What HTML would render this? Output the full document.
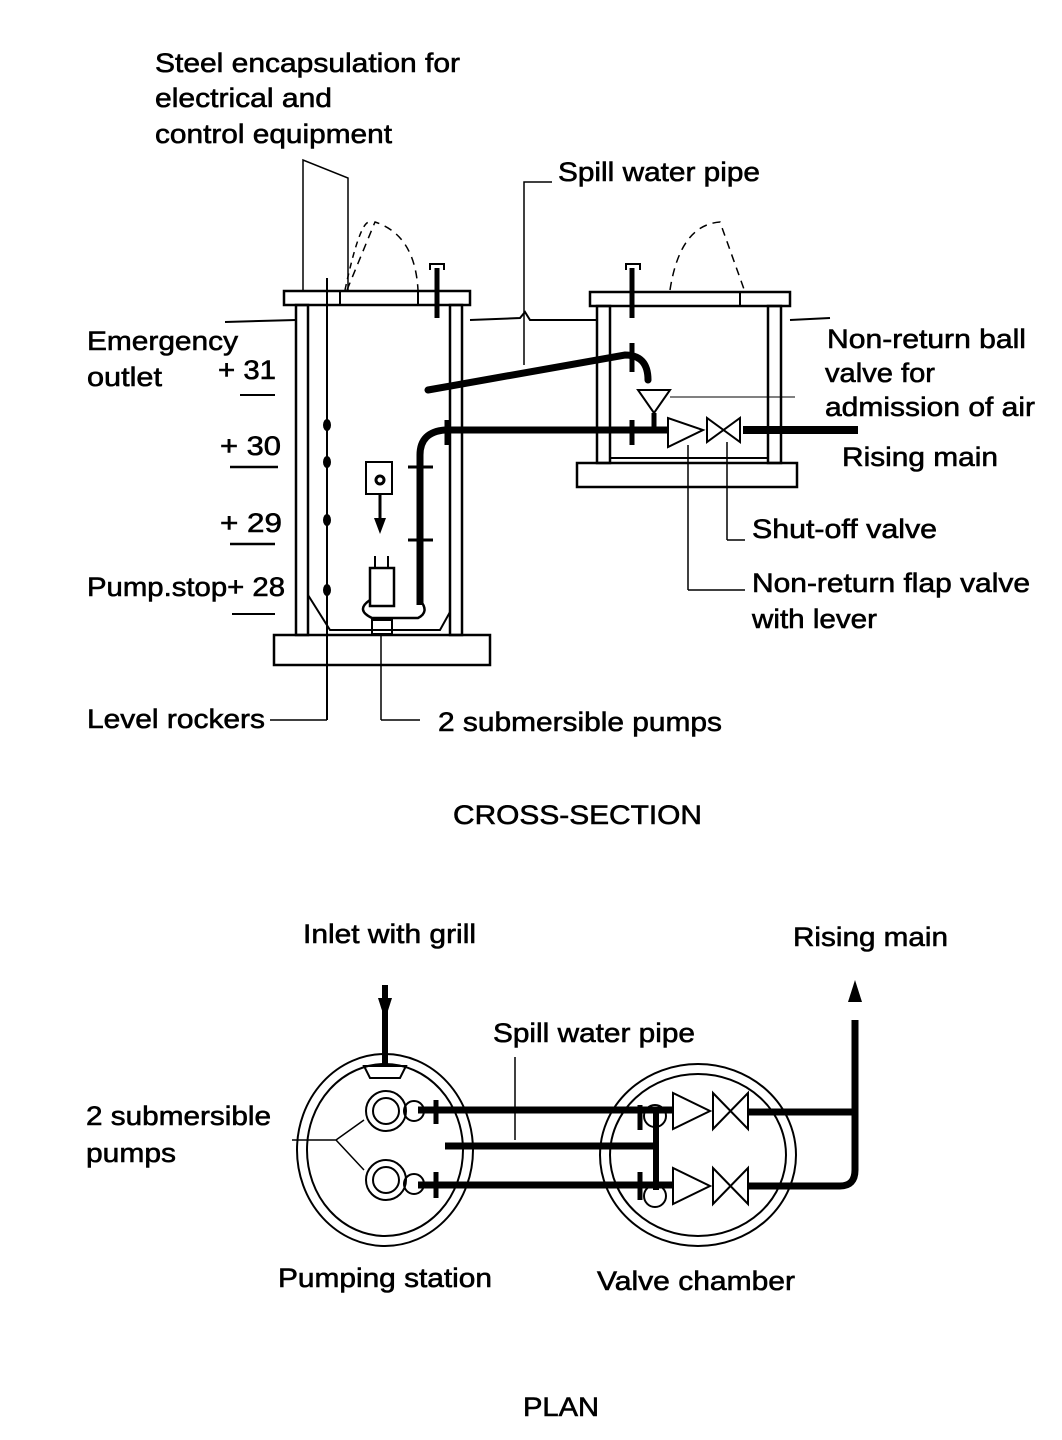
<!DOCTYPE html>
<html><head><meta charset="utf-8"><style>
html,body{margin:0;padding:0;background:#fff;}
svg{display:block;}
text{font-family:"Liberation Sans",Arial,sans-serif;font-size:27px;fill:#000;stroke:#000;stroke-width:0.6;}
</style></head><body>
<svg width="1062" height="1440" viewBox="0 0 1062 1440" xmlns="http://www.w3.org/2000/svg">
<g fill="none" stroke="#000">
<path d="M225 322 L296 320" stroke-width="2"/>
<path d="M470 320 L520 318 L525 312 L530 320 L597 320" stroke-width="2"/>
<path d="M790 320 L830 318" stroke-width="2"/>
<rect x="284" y="291" width="186" height="14" stroke-width="2.5"/>
<line x1="340" y1="291" x2="340" y2="305" stroke-width="2"/>
<line x1="418" y1="291" x2="418" y2="305" stroke-width="2"/>
<rect x="296" y="305" width="12" height="330" stroke-width="2.5"/>
<rect x="450" y="305" width="12" height="330" stroke-width="2.5"/>
<path d="M308 595 L330 630 L440 630 L450 612" stroke-width="2"/>
<rect x="274" y="635" width="216" height="30" stroke-width="2.5"/>
<path d="M303 290 L303 160 L348 178 L348 290" stroke-width="1.5"/>
<path d="M345 290 Q360 220 370 222" stroke-width="1.5" stroke-dasharray="6,5"/>
<path d="M347 290 L375 222 Q415 235 418 290" stroke-width="1.5" stroke-dasharray="8,6"/>
<line x1="327" y1="278" x2="327" y2="720" stroke-width="2"/>
<path d="M327 720 L270 720" stroke-width="1.5"/>
<line x1="437" y1="268" x2="437" y2="318" stroke-width="5"/>
<path d="M430 270 L430 264 L444 264 L444 270" stroke-width="2"/>
<path d="M428 390 L625 355 Q648 355 648 380" stroke-width="7" stroke-linecap="round"/>
<line x1="632" y1="343" x2="632" y2="372" stroke-width="5"/>
<path d="M420 605 L420 455 Q420 432 445 430 L668 430" stroke-width="7"/>
<line x1="408" y1="467" x2="433" y2="467" stroke-width="3"/>
<line x1="408" y1="540" x2="433" y2="540" stroke-width="3"/>
<line x1="447" y1="420" x2="447" y2="445" stroke-width="5"/>
<line x1="632" y1="420" x2="632" y2="445" stroke-width="5"/>
<path d="M366 494 L366 462 L392 462 L392 494 Z" stroke-width="2"/>
<circle cx="380" cy="480" r="4" stroke-width="3"/>
<line x1="380" y1="494" x2="380" y2="520" stroke-width="3"/>
<rect x="370" y="568" width="24" height="38" stroke-width="2.5"/>
<line x1="375" y1="556" x2="375" y2="568" stroke-width="2"/>
<line x1="388" y1="556" x2="388" y2="568" stroke-width="2"/>
<path d="M370 600 Q355 610 372 618 L418 618 Q430 612 420 600" stroke-width="2.5"/>
<rect x="372" y="620" width="20" height="14" stroke-width="2"/>
<line x1="381" y1="634" x2="381" y2="720" stroke-width="1.5"/>
<path d="M381 720 L420 720" stroke-width="1.5"/>
<rect x="590" y="292" width="200" height="14" stroke-width="2.5"/>
<line x1="740" y1="292" x2="740" y2="306" stroke-width="2"/>
<rect x="597" y="306" width="13" height="157" stroke-width="2.5"/>
<rect x="768" y="306" width="13" height="157" stroke-width="2.5"/>
<rect x="577" y="463" width="220" height="24" stroke-width="2.5"/>
<line x1="610" y1="458" x2="768" y2="458" stroke-width="2"/>
<line x1="632" y1="268" x2="632" y2="318" stroke-width="5"/>
<path d="M626 270 L626 264 L640 264 L640 270" stroke-width="2"/>
<path d="M670 290 Q680 225 720 222 L745 292" stroke-width="1.5" stroke-dasharray="8,6"/>
<path d="M638 390 L670 390 L654 413 Z" stroke-width="2"/>
<line x1="670" y1="397" x2="795" y2="397" stroke-width="1"/>
<line x1="654" y1="413" x2="654" y2="430" stroke-width="5"/>
<path d="M668 418 L668 447 L703 430 Z" stroke-width="2"/>
<path d="M707 418 L707 442 L740 418 L740 442 Z" stroke-width="2"/>
<line x1="743" y1="430" x2="858" y2="430" stroke-width="8"/>
<line x1="727" y1="442" x2="727" y2="540" stroke-width="1.5"/>
<path d="M727 540 L745 540" stroke-width="1.5"/>
<line x1="688" y1="445" x2="688" y2="590" stroke-width="1.5"/>
<path d="M688 590 L745 590" stroke-width="1.5"/>
<path d="M524 365 L524 182 L552 182" stroke-width="1.5"/>
<line x1="240" y1="395" x2="275" y2="395" stroke-width="2"/>
<line x1="230" y1="467" x2="278" y2="467" stroke-width="2.5"/>
<line x1="230" y1="544" x2="275" y2="544" stroke-width="2.5"/>
<line x1="232" y1="614" x2="275" y2="614" stroke-width="2"/>
<ellipse cx="385" cy="1150" rx="88" ry="96" stroke-width="2"/>
<ellipse cx="385" cy="1150" rx="78" ry="86" stroke-width="2"/>
<ellipse cx="698" cy="1155" rx="98" ry="91" stroke-width="2"/>
<ellipse cx="698" cy="1155" rx="88" ry="81" stroke-width="2"/>
<line x1="385" y1="985" x2="385" y2="1065" stroke-width="6"/>
<path d="M364 1066 L406 1066 L400 1078 L370 1078 Z" stroke-width="2"/>
<circle cx="386" cy="1111" r="20" stroke-width="2"/>
<circle cx="386" cy="1111" r="13" stroke-width="2"/>
<circle cx="414" cy="1111" r="10" stroke-width="2"/>
<circle cx="386" cy="1180" r="20" stroke-width="2"/>
<circle cx="386" cy="1180" r="13" stroke-width="2"/>
<circle cx="414" cy="1184" r="10" stroke-width="2"/>
<path d="M292 1140 L336 1140 L364 1120 M336 1140 L364 1170" stroke-width="1.5"/>
<line x1="418" y1="1110" x2="672" y2="1110" stroke-width="7"/>
<line x1="445" y1="1146" x2="658" y2="1146" stroke-width="7"/>
<line x1="418" y1="1185" x2="672" y2="1185" stroke-width="7"/>
<line x1="656" y1="1110" x2="656" y2="1190" stroke-width="6"/>
<line x1="436" y1="1100" x2="436" y2="1124" stroke-width="5"/>
<line x1="436" y1="1172" x2="436" y2="1198" stroke-width="5"/>
<line x1="640" y1="1105" x2="640" y2="1130" stroke-width="5"/>
<line x1="640" y1="1172" x2="640" y2="1200" stroke-width="5"/>
<circle cx="655" cy="1116" r="11" stroke-width="2"/>
<circle cx="655" cy="1196" r="11" stroke-width="2"/>
<line x1="515" y1="1057" x2="515" y2="1140" stroke-width="1.5"/>
<path d="M673 1093 L673 1129 L710 1111 Z" stroke-width="2"/>
<path d="M713 1093 L713 1129 L748 1093 L748 1129 Z" stroke-width="2"/>
<path d="M673 1168 L673 1204 L710 1186 Z" stroke-width="2"/>
<path d="M713 1168 L713 1204 L748 1168 L748 1204 Z" stroke-width="2"/>
<path d="M748 1112 L855 1112" stroke-width="7"/>
<path d="M748 1186 L840 1186 Q855 1186 855 1170 L855 1020" stroke-width="7"/>
</g>
<path d="M378 998 L392 998 L385 1020 Z" fill="#000"/>
<path d="M848 1002 L862 1002 L855 980 Z" fill="#000"/>
<path d="M374 518 L386 518 L380 534 Z" fill="#000"/>
<g fill="#000">
<ellipse cx="327" cy="425" rx="4" ry="6"/>
<ellipse cx="327" cy="462" rx="4" ry="6"/>
<ellipse cx="327" cy="520" rx="4" ry="6"/>
<ellipse cx="327" cy="590" rx="4" ry="6"/>
</g>
<text x="155" y="72" textLength="305" lengthAdjust="spacingAndGlyphs">Steel encapsulation for</text>
<text x="155" y="107" textLength="177" lengthAdjust="spacingAndGlyphs">electrical and</text>
<text x="155" y="143" textLength="237" lengthAdjust="spacingAndGlyphs">control equipment</text>
<text x="558" y="181" textLength="202" lengthAdjust="spacingAndGlyphs">Spill water pipe</text>
<text x="87" y="350" textLength="151" lengthAdjust="spacingAndGlyphs">Emergency</text>
<text x="87" y="386" textLength="75" lengthAdjust="spacingAndGlyphs">outlet</text>
<text x="218" y="379" textLength="58" lengthAdjust="spacingAndGlyphs">+ 31</text>
<text x="220" y="455" textLength="61" lengthAdjust="spacingAndGlyphs">+ 30</text>
<text x="220" y="532" textLength="62" lengthAdjust="spacingAndGlyphs">+ 29</text>
<text x="87" y="596" textLength="198" lengthAdjust="spacingAndGlyphs">Pump.stop+ 28</text>
<text x="827" y="348" textLength="199" lengthAdjust="spacingAndGlyphs">Non-return ball</text>
<text x="825" y="382" textLength="110" lengthAdjust="spacingAndGlyphs">valve for</text>
<text x="825" y="416" textLength="210" lengthAdjust="spacingAndGlyphs">admission of air</text>
<text x="842" y="466" textLength="156" lengthAdjust="spacingAndGlyphs">Rising main</text>
<text x="752" y="538" textLength="185" lengthAdjust="spacingAndGlyphs">Shut-off valve</text>
<text x="752" y="592" textLength="278" lengthAdjust="spacingAndGlyphs">Non-return flap valve</text>
<text x="752" y="628" textLength="125" lengthAdjust="spacingAndGlyphs">with lever</text>
<text x="87" y="728" textLength="178" lengthAdjust="spacingAndGlyphs">Level rockers</text>
<text x="438" y="731" textLength="284" lengthAdjust="spacingAndGlyphs">2 submersible pumps</text>
<text x="453" y="824" textLength="249" lengthAdjust="spacingAndGlyphs">CROSS-SECTION</text>
<text x="303" y="943" textLength="173" lengthAdjust="spacingAndGlyphs">Inlet with grill</text>
<text x="793" y="946" textLength="155" lengthAdjust="spacingAndGlyphs">Rising main</text>
<text x="493" y="1042" textLength="202" lengthAdjust="spacingAndGlyphs">Spill water pipe</text>
<text x="86" y="1125" textLength="185" lengthAdjust="spacingAndGlyphs">2 submersible</text>
<text x="86" y="1162" textLength="90" lengthAdjust="spacingAndGlyphs">pumps</text>
<text x="278" y="1287" textLength="214" lengthAdjust="spacingAndGlyphs">Pumping station</text>
<text x="597" y="1290" textLength="198" lengthAdjust="spacingAndGlyphs">Valve chamber</text>
<text x="523" y="1416" textLength="76" lengthAdjust="spacingAndGlyphs">PLAN</text>
</svg>
</body></html>
